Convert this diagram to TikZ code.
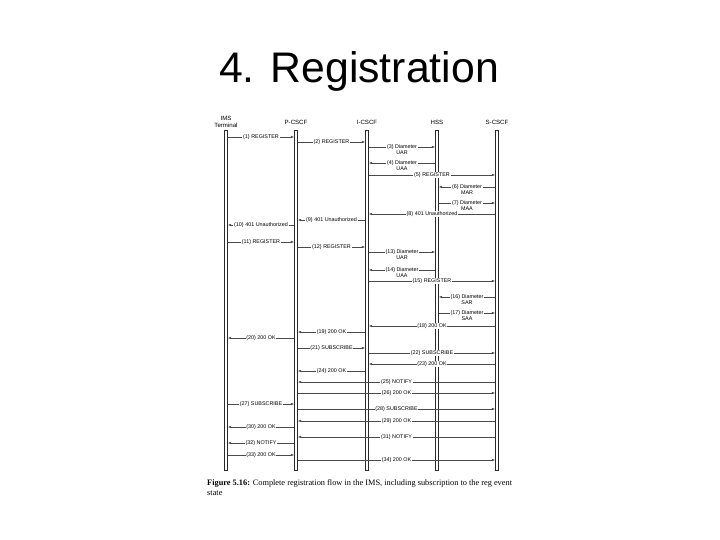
\documentclass[tikz,border=0pt]{standalone}
\usepackage{fontspec}
\setmainfont{Liberation Sans}
\newfontfamily\capfont{Liberation Serif}
\usetikzlibrary{positioning,arrows.meta}
\definecolor{ink}{HTML}{2A2A2A}

\begin{document}
\begin{tikzpicture}[x=0.03cm,y=-0.03cm, every node/.style={font=\fontsize{4.6}{5.2}\selectfont, inner sep=0.6pt},
  head/.style={font=\fontsize{5.2}{5.8}\selectfont, align=center, anchor=south},
  life/.style={draw=ink, line width=0.45pt},
  msg/.style={draw=ink!85, line width=0.4pt, -{Latex[length=2.8pt,width=2pt]},
              shorten <=1.5pt, shorten >=1.5pt},
  lbl/.style={fill=white, align=center},
  lbltwo/.style={fill=white, align=center, anchor=north, yshift=2.9pt},
]
  \useasboundingbox (0,0) rectangle (720,540);

  % Title
  \node[font=\fontsize{36.5}{40}\selectfont, anchor=base] (title) at (359,83) {4. Registration};

  % Entities and lifelines
  \node[head] (ims) at (226,128) {IMS\\Terminal};
  \node[head] (pcscf) at (296,125) {P-CSCF};
  \node[head] (icscf) at (367,125) {I-CSCF};
  \node[head] (hss) at (437,125) {HSS};
  \node[head] (scscf) at (497,125) {S-CSCF};
  \coordinate (top) at (0,130);
  \coordinate (bot) at (0,470);
  \foreach \n in {ims,pcscf,icscf,hss,scscf}
    \draw[life] ([xshift=-1.5pt]\n |- top) rectangle ([xshift=1.5pt]\n |- bot);

  % First REGISTER, challenged
  \draw[msg] (ims |- 0,137) -- node[lbl] {(1) REGISTER} (pcscf |- 0,137);
  \draw[msg] (pcscf |- 0,142) -- node[lbl] {(2) REGISTER} (icscf |- 0,142);
  \draw[msg] (icscf |- 0,147) -- node[lbltwo] {(3) Diameter\\UAR} (hss |- 0,147);
  \draw[msg] (hss |- 0,163) -- node[lbltwo] {(4) Diameter\\UAA} (icscf |- 0,163);
  \draw[msg] (icscf |- 0,175) -- node[lbl] {(5) REGISTER} (scscf |- 0,175);
  \draw[msg] (scscf |- 0,187) -- node[lbltwo] {(6) Diameter\\MAR} (hss |- 0,187);
  \draw[msg] (hss |- 0,203) -- node[lbltwo] {(7) Diameter\\MAA} (scscf |- 0,203);
  \draw[msg] (scscf |- 0,214) -- node[lbl] {(8) 401 Unauthorized} (icscf |- 0,214);
  \draw[msg] (icscf |- 0,220) -- node[lbl] {(9) 401 Unauthorized} (pcscf |- 0,220);
  \draw[msg] (pcscf |- 0,225) -- node[lbl] {(10) 401 Unauthorized} (ims |- 0,225);

  % Second REGISTER
  \draw[msg] (ims |- 0,242) -- node[lbl] {(11) REGISTER} (pcscf |- 0,242);
  \draw[msg] (pcscf |- 0,247) -- node[lbl] {(12) REGISTER} (icscf |- 0,247);
  \draw[msg] (icscf |- 0,252) -- node[lbltwo] {(13) Diameter\\UAR} (hss |- 0,252);
  \draw[msg] (hss |- 0,270) -- node[lbltwo] {(14) Diameter\\UAA} (icscf |- 0,270);
  \draw[msg] (icscf |- 0,281) -- node[lbl] {(15) REGISTER} (scscf |- 0,281);
  \draw[msg] (scscf |- 0,297) -- node[lbltwo] {(16) Diameter\\SAR} (hss |- 0,297);
  \draw[msg] (hss |- 0,313) -- node[lbltwo] {(17) Diameter\\SAA} (scscf |- 0,313);
  \draw[msg] (scscf |- 0,326) -- node[lbl] {(18) 200 OK} (icscf |- 0,326);
  \draw[msg] (icscf |- 0,332) -- node[lbl] {(19) 200 OK} (pcscf |- 0,332);
  \draw[msg] (pcscf |- 0,338) -- node[lbl] {(20) 200 OK} (ims |- 0,338);

  % Subscription to the reg event
  \draw[msg] (pcscf |- 0,348) -- node[lbl] {(21) SUBSCRIBE} (icscf |- 0,348);
  \draw[msg] (icscf |- 0,353) -- node[lbl] {(22) SUBSCRIBE} (scscf |- 0,353);
  \draw[msg] (scscf |- 0,364) -- node[lbl] {(23) 200 OK} (icscf |- 0,364);
  \draw[msg] (icscf |- 0,371) -- node[lbl] {(24) 200 OK} (pcscf |- 0,371);
  \draw[msg] (scscf |- 0,382) -- node[lbl] {(25) NOTIFY} (pcscf |- 0,382);
  \draw[msg] (pcscf |- 0,393) -- node[lbl] {(26) 200 OK} (scscf |- 0,393);
  \draw[msg] (ims |- 0,404) -- node[lbl] {(27) SUBSCRIBE} (pcscf |- 0,404);
  \draw[msg] (pcscf |- 0,409) -- node[lbl] {(28) SUBSCRIBE} (scscf |- 0,409);
  \draw[msg] (scscf |- 0,421) -- node[lbl] {(29) 200 OK} (pcscf |- 0,421);
  \draw[msg] (pcscf |- 0,427) -- node[lbl] {(30) 200 OK} (ims |- 0,427);
  \draw[msg] (scscf |- 0,437) -- node[lbl] {(31) NOTIFY} (pcscf |- 0,437);
  \draw[msg] (pcscf |- 0,443) -- node[lbl] {(32) NOTIFY} (ims |- 0,443);
  \draw[msg] (ims |- 0,455) -- node[lbl] {(33) 200 OK} (pcscf |- 0,455);
  \draw[msg] (pcscf |- 0,460) -- node[lbl] {(34) 200 OK} (scscf |- 0,460);

  % Caption
  \node[anchor=base west, align=left, inner sep=0pt, font=\capfont\fontsize{7.1}{7.8}\selectfont] (cap) at (207,495)
    {\textbf{Figure 5.16:} Complete registration flow in the IMS, including subscription to the reg event\\state};
\end{tikzpicture}
\end{document}
